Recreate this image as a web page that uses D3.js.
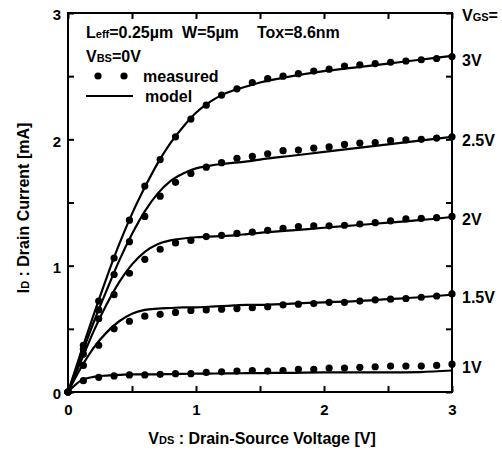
<!DOCTYPE html>
<html>
<head>
<meta charset="utf-8">
<script src="https://cdn.jsdelivr.net/npm/d3@7"></script>
<style>
  body { margin: 0; background: #fff; }
  svg text { font-family: "Liberation Sans", Arial, sans-serif; font-weight: bold; fill: #000; }
</style>
</head>
<body>
<div id="chart"></div>
<script>
// measured points, VDS step 0.12 V
var measVds = [0, 0.12, 0.24, 0.36, 0.48, 0.60, 0.72, 0.84, 0.96, 1.08, 1.20, 1.32, 1.44,
               1.56, 1.68, 1.80, 1.92, 2.04, 2.16, 2.28, 2.40, 2.52, 2.64, 2.76, 2.88, 3.00];
var meas3 = [0, 0.37, 0.72, 1.06, 1.36, 1.63, 1.84, 2.02, 2.16, 2.27, 2.35, 2.40, 2.45,
             2.48, 2.50, 2.52, 2.54, 2.555, 2.58, 2.59, 2.60, 2.61, 2.62, 2.63, 2.64, 2.655];
var meas25 = [0, 0.34, 0.65, 0.93, 1.19, 1.39, 1.55, 1.66, 1.73, 1.78, 1.815, 1.85, 1.865,
              1.885, 1.91, 1.915, 1.93, 1.94, 1.96, 1.97, 1.975, 1.99, 1.995, 2.00, 2.01, 2.02];
var meas2 = [0, 0.30, 0.58, 0.77, 0.94, 1.05, 1.13, 1.18, 1.20, 1.23, 1.24, 1.255, 1.265,
             1.28, 1.295, 1.31, 1.315, 1.315, 1.32, 1.33, 1.34, 1.355, 1.37, 1.375, 1.38, 1.39];
var meas15 = [0, 0.21, 0.37, 0.50, 0.56, 0.60, 0.615, 0.63, 0.645, 0.65, 0.655, 0.66, 0.667,
              0.675, 0.69, 0.695, 0.70, 0.71, 0.71, 0.72, 0.73, 0.735, 0.74, 0.75, 0.76, 0.776];
var meas1 = [0, 0.09, 0.116, 0.127, 0.135, 0.135, 0.14, 0.145, 0.145, 0.155, 0.16, 0.166, 0.17,
             0.166, 0.17, 0.18, 0.18, 0.19, 0.19, 0.195, 0.20, 0.205, 0.205, 0.205, 0.21, 0.22];

// model curves
var modelVds = [0, 0.1, 0.2, 0.3, 0.4, 0.5, 0.6, 0.7, 0.8, 0.9, 1.0, 1.1, 1.2, 1.3, 1.4, 1.5,
                1.75, 2.0, 2.25, 2.5, 2.75, 3.0];
var model3 = [0, 0.31, 0.61, 0.90, 1.17, 1.41, 1.62, 1.81, 1.97, 2.10, 2.21, 2.29, 2.35, 2.39, 2.42, 2.45,
              2.50, 2.54, 2.57, 2.60, 2.63, 2.66];
var model25 = [0, 0.28, 0.55, 0.80, 1.04, 1.25, 1.43, 1.57, 1.67, 1.73, 1.77, 1.79, 1.805, 1.815, 1.825, 1.84,
               1.87, 1.90, 1.93, 1.96, 1.99, 2.02];
var model2 = [0, 0.24, 0.48, 0.69, 0.87, 1.01, 1.11, 1.17, 1.20, 1.215, 1.225, 1.23, 1.235, 1.24, 1.25, 1.26,
              1.28, 1.30, 1.32, 1.34, 1.36, 1.385];
var model15 = [0, 0.19, 0.35, 0.47, 0.56, 0.62, 0.65, 0.66, 0.665, 0.67, 0.67, 0.675, 0.68, 0.685, 0.69, 0.69,
               0.70, 0.71, 0.72, 0.735, 0.75, 0.77];
var model1 = [0, 0.09, 0.12, 0.13, 0.135, 0.14, 0.14, 0.14, 0.142, 0.144, 0.145, 0.146, 0.147, 0.148, 0.149, 0.15,
              0.152, 0.155, 0.155, 0.155, 0.158, 0.17];

var vgsLabels = ['3V', '2.5V', '2V', '1.5V', '1V'];
var measSets = [meas3, meas25, meas2, meas15, meas1];
var modelSets = [model3, model25, model2, model15, model1];
var xTickLabels = [0, 1, 2, 3];
var yTickLabels = [0, 1, 2, 3];
var minorTicks = [0, 0.5, 1, 1.5, 2, 2.5, 3];

var svgWidth = 502;
var svgHeight = 450;

var svg = d3.select('#chart')
            .append('svg')
            .attr('width', svgWidth)
            .attr('height', svgHeight);

var x = d3.scaleLinear().domain([0, 3]).range([68, 452]);
var y = d3.scaleLinear().domain([0, 3]).range([392, 13]);

function tickFmt(d) {
    return xTickLabels.indexOf(d) >= 0 ? d : '';
}

// axes, ticks pointing inward
var axB = svg.append('g').attr('transform', 'translate(0,392)')
    .call(d3.axisBottom(x).tickValues(minorTicks).tickSizeInner(-6).tickSizeOuter(0).tickPadding(12).tickFormat(tickFmt));
var axT = svg.append('g').attr('transform', 'translate(0,13)')
    .call(d3.axisTop(x).tickValues(minorTicks).tickSizeInner(-6).tickSizeOuter(0).tickFormat(''));
var axL = svg.append('g').attr('transform', 'translate(68,0)')
    .call(d3.axisLeft(y).tickValues(minorTicks).tickSizeInner(-6).tickSizeOuter(0).tickPadding(7)
        .tickFormat(function(d) { return yTickLabels.indexOf(d) >= 0 ? d : ''; }));
var axR = svg.append('g').attr('transform', 'translate(452,0)')
    .call(d3.axisRight(y).tickValues(minorTicks).tickSizeInner(-6).tickSizeOuter(0).tickFormat(''));

[axB, axT, axL, axR].forEach(function(g) {
    g.select('.domain').remove();
    g.selectAll('line').attr('stroke', '#000').attr('stroke-width', 2);
    g.selectAll('text').attr('font-size', 15).attr('font-weight', 'bold')
        .attr('font-family', '"Liberation Sans", Arial, sans-serif').attr('fill', '#000');
});
axL.selectAll('text').attr('dy', '0.45em');

svg.append('rect')
    .attr('x', 68).attr('y', 13)
    .attr('width', 384).attr('height', 379)
    .attr('fill', 'none').attr('stroke', '#000').attr('stroke-width', 2);

var line = d3.line()
    .x(function(d) { return x(d[0]); })
    .y(function(d) { return y(d[1]); })
    .curve(d3.curveMonotoneX);

modelSets.forEach(function(vals) {
    svg.append('path')
        .datum(modelVds.map(function(v, i) { return [v, vals[i]]; }))
        .attr('d', line)
        .attr('fill', 'none')
        .attr('stroke', '#000')
        .attr('stroke-width', 2.2);
});

measSets.forEach(function(vals) {
    svg.append('g').selectAll('circle')
        .data(measVds.map(function(v, i) { return [v, vals[i]]; }))
        .enter()
        .append('circle')
        .attr('cx', function(d) { return x(d[0]); })
        .attr('cy', function(d) { return y(d[1]); })
        .attr('r', 3.6)
        .attr('fill', '#000');
});

// VGS labels at right
svg.append('text').attr('x', 462).attr('y', 21).attr('font-size', 16)
    .call(function(t) {
        t.append('tspan').text('V');
        t.append('tspan').attr('font-size', 11).text('GS');
        t.append('tspan').text('=');
    });
svg.selectAll('.vgs')
    .data(vgsLabels)
    .enter()
    .append('text')
    .attr('class', 'vgs')
    .attr('x', 462)
    .attr('y', function(d, i) { var v = measSets[i]; return y(v[v.length - 1]) + 9; })
    .attr('font-size', 16)
    .text(function(d) { return d; });

// annotation
svg.append('text').attr('x', 86).attr('y', 38).attr('font-size', 16)
    .call(function(t) {
        t.append('tspan').text('L');
        t.append('tspan').attr('font-size', 11).text('eff');
        t.append('tspan').text('=0.25\u00b5m  W=5\u00b5m').attr('style', 'white-space: pre');
    });
svg.append('text').attr('x', 257).attr('y', 38).attr('font-size', 16).text('Tox=8.6nm');
svg.append('text').attr('x', 86).attr('y', 62).attr('font-size', 16)
    .call(function(t) {
        t.append('tspan').text('V');
        t.append('tspan').attr('font-size', 11).text('BS');
        t.append('tspan').text('=0V');
    });

// legend
svg.append('circle').attr('cx', 98).attr('cy', 76).attr('r', 3.6).attr('fill', '#000');
svg.append('circle').attr('cx', 124).attr('cy', 76).attr('r', 3.6).attr('fill', '#000');
svg.append('text').attr('x', 143).attr('y', 82).attr('font-size', 16).text('measured');
svg.append('line').attr('x1', 86).attr('x2', 133).attr('y1', 96).attr('y2', 96)
    .attr('stroke', '#000').attr('stroke-width', 2.2);
svg.append('text').attr('x', 145).attr('y', 102).attr('font-size', 16).text('model');

// axis titles
svg.append('text').attr('x', 262).attr('y', 444).attr('text-anchor', 'middle').attr('font-size', 16)
    .call(function(t) {
        t.append('tspan').text('V');
        t.append('tspan').attr('font-size', 11).text('DS');
        t.append('tspan').text(' : Drain-Source Voltage [V]');
    });
svg.append('text')
    .attr('transform', 'translate(29,208) rotate(-90)')
    .attr('text-anchor', 'middle').attr('font-size', 16)
    .call(function(t) {
        t.append('tspan').text('I');
        t.append('tspan').attr('font-size', 11).text('D');
        t.append('tspan').text(' : Drain Current [mA]');
    });
</script>
</body>
</html>
